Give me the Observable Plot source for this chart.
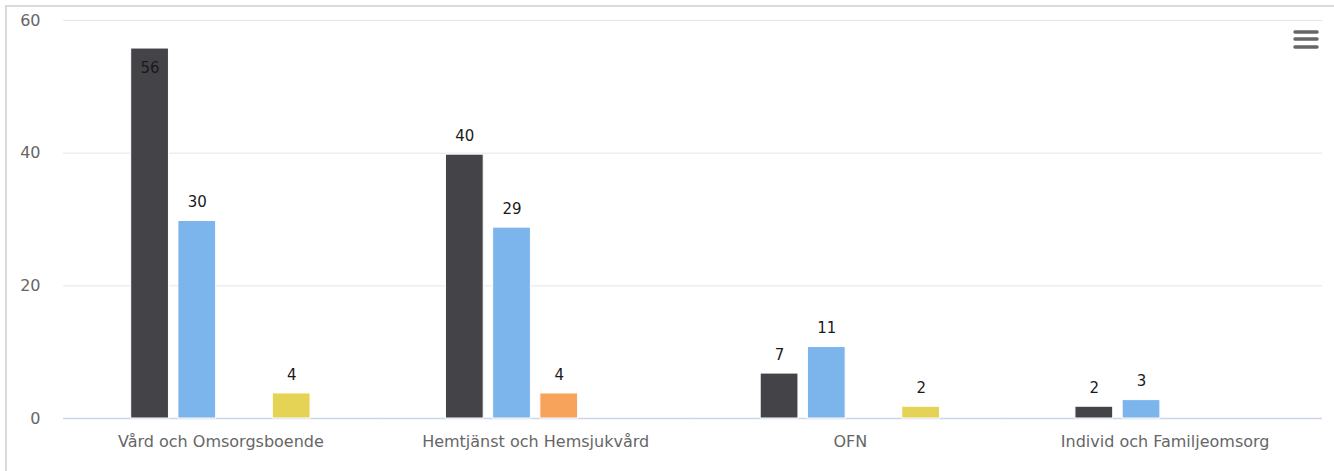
<!DOCTYPE html>
<html>
<head>
<meta charset="utf-8">
<script src="https://cdn.jsdelivr.net/npm/d3@7"></script>
<script src="https://cdn.jsdelivr.net/npm/@observablehq/plot@0.6"></script>
<style>
  html, body { margin: 0; padding: 0; background: #fff; }
  #wrap { position: relative; width: 1334px; height: 471px; overflow: hidden; font-family: "DejaVu Sans", Verdana, sans-serif; }
  #frame { position: absolute; left: 5px; top: 5px; right: -10px; bottom: -10px; border-left: 2px solid #dadada; border-top: 2px solid #dadada; }
  #chart { position: absolute; left: 0; top: 0; }
  #menu { position: absolute; left: 1290px; top: 27px; }
</style>
</head>
<body>
<div id="wrap">
  <div id="frame"></div>
  <div id="chart"></div>
  <svg id="menu" width="32" height="26" viewBox="0 0 32 26">
    <line x1="5" y1="5" x2="27" y2="5" stroke="#666" stroke-width="3.5" stroke-linecap="round"/>
    <line x1="5" y1="12" x2="27" y2="12" stroke="#666" stroke-width="3.5" stroke-linecap="round"/>
    <line x1="5" y1="20" x2="27" y2="20" stroke="#666" stroke-width="3.5" stroke-linecap="round"/>
  </svg>
</div>
<script>
const categories = ["Vård och Omsorgsboende", "Hemtjänst och Hemsjukvård", "OFN", "Individ och Familjeomsorg"];
const seriesNames = ["Serie 1", "Serie 2", "Serie 3", "Serie 4"];
const serie1 = [56, 40, 7, 2];
const serie2 = [30, 29, 11, 3];
const serie3 = [null, 4, null, null];
const serie4 = [4, null, 2, null];
const seriesColors = ["#434348", "#7cb5ec", "#f7a35c", "#e4d354"];
const yTicks = [0, 20, 40, 60];

const allSeries = [serie1, serie2, serie3, serie4];
const rows = [];
categories.forEach((c, i) => {
  allSeries.forEach((s, j) => {
    if (s[i] != null) rows.push({category: c, series: seriesNames[j], value: s[i]});
  });
});

const chart = Plot.plot({
  width: 1334,
  height: 471,
  marginLeft: 63,
  marginRight: 12,
  marginTop: 20,
  marginBottom: 53,
  style: {fontFamily: "DejaVu Sans, Verdana, sans-serif", fontSize: "16px", background: "transparent"},
  fx: {domain: categories, padding: 0, round: false, label: null, axis: "bottom", tickSize: 0, tickPadding: 17},
  x: {domain: seriesNames, paddingInner: 0.2, paddingOuter: 1.434, round: false, axis: null},
  y: {domain: [0, 60], ticks: yTicks, label: null, tickSize: 0, tickPadding: 23},
  color: {domain: seriesNames, range: seriesColors},
  marks: [
    Plot.gridY(yTicks, {stroke: "#e6e6e6", strokeOpacity: 1}),
    Plot.ruleY([0], {stroke: "#ccd6eb", strokeWidth: 1.5}),
    Plot.barY(rows, {fx: "category", x: "series", y: "value", fill: "series", stroke: "white", strokeWidth: 1, insetTop: 1.5}),
    Plot.text(rows.filter(d => d.value < 50), {fx: "category", x: "series", y: "value", text: d => String(d.value), dy: -17, lineAnchor: "middle", fill: "#1a1a1a", fontSize: 15}),
    Plot.text(rows.filter(d => d.value >= 50), {fx: "category", x: "series", y: "value", text: d => String(d.value), dy: 21, lineAnchor: "middle", fill: "#1a1a1a", fontSize: 15})
  ]
});
chart.querySelectorAll("[aria-label='y-axis tick label'] text, [aria-label='fx-axis tick label'] text").forEach(t => t.setAttribute("fill", "#666"));
chart.querySelectorAll("[aria-label='y-axis tick label'], [aria-label='fx-axis tick label']").forEach(g => g.setAttribute("fill", "#666"));
document.getElementById("chart").appendChild(chart);
</script>
</body>
</html>
